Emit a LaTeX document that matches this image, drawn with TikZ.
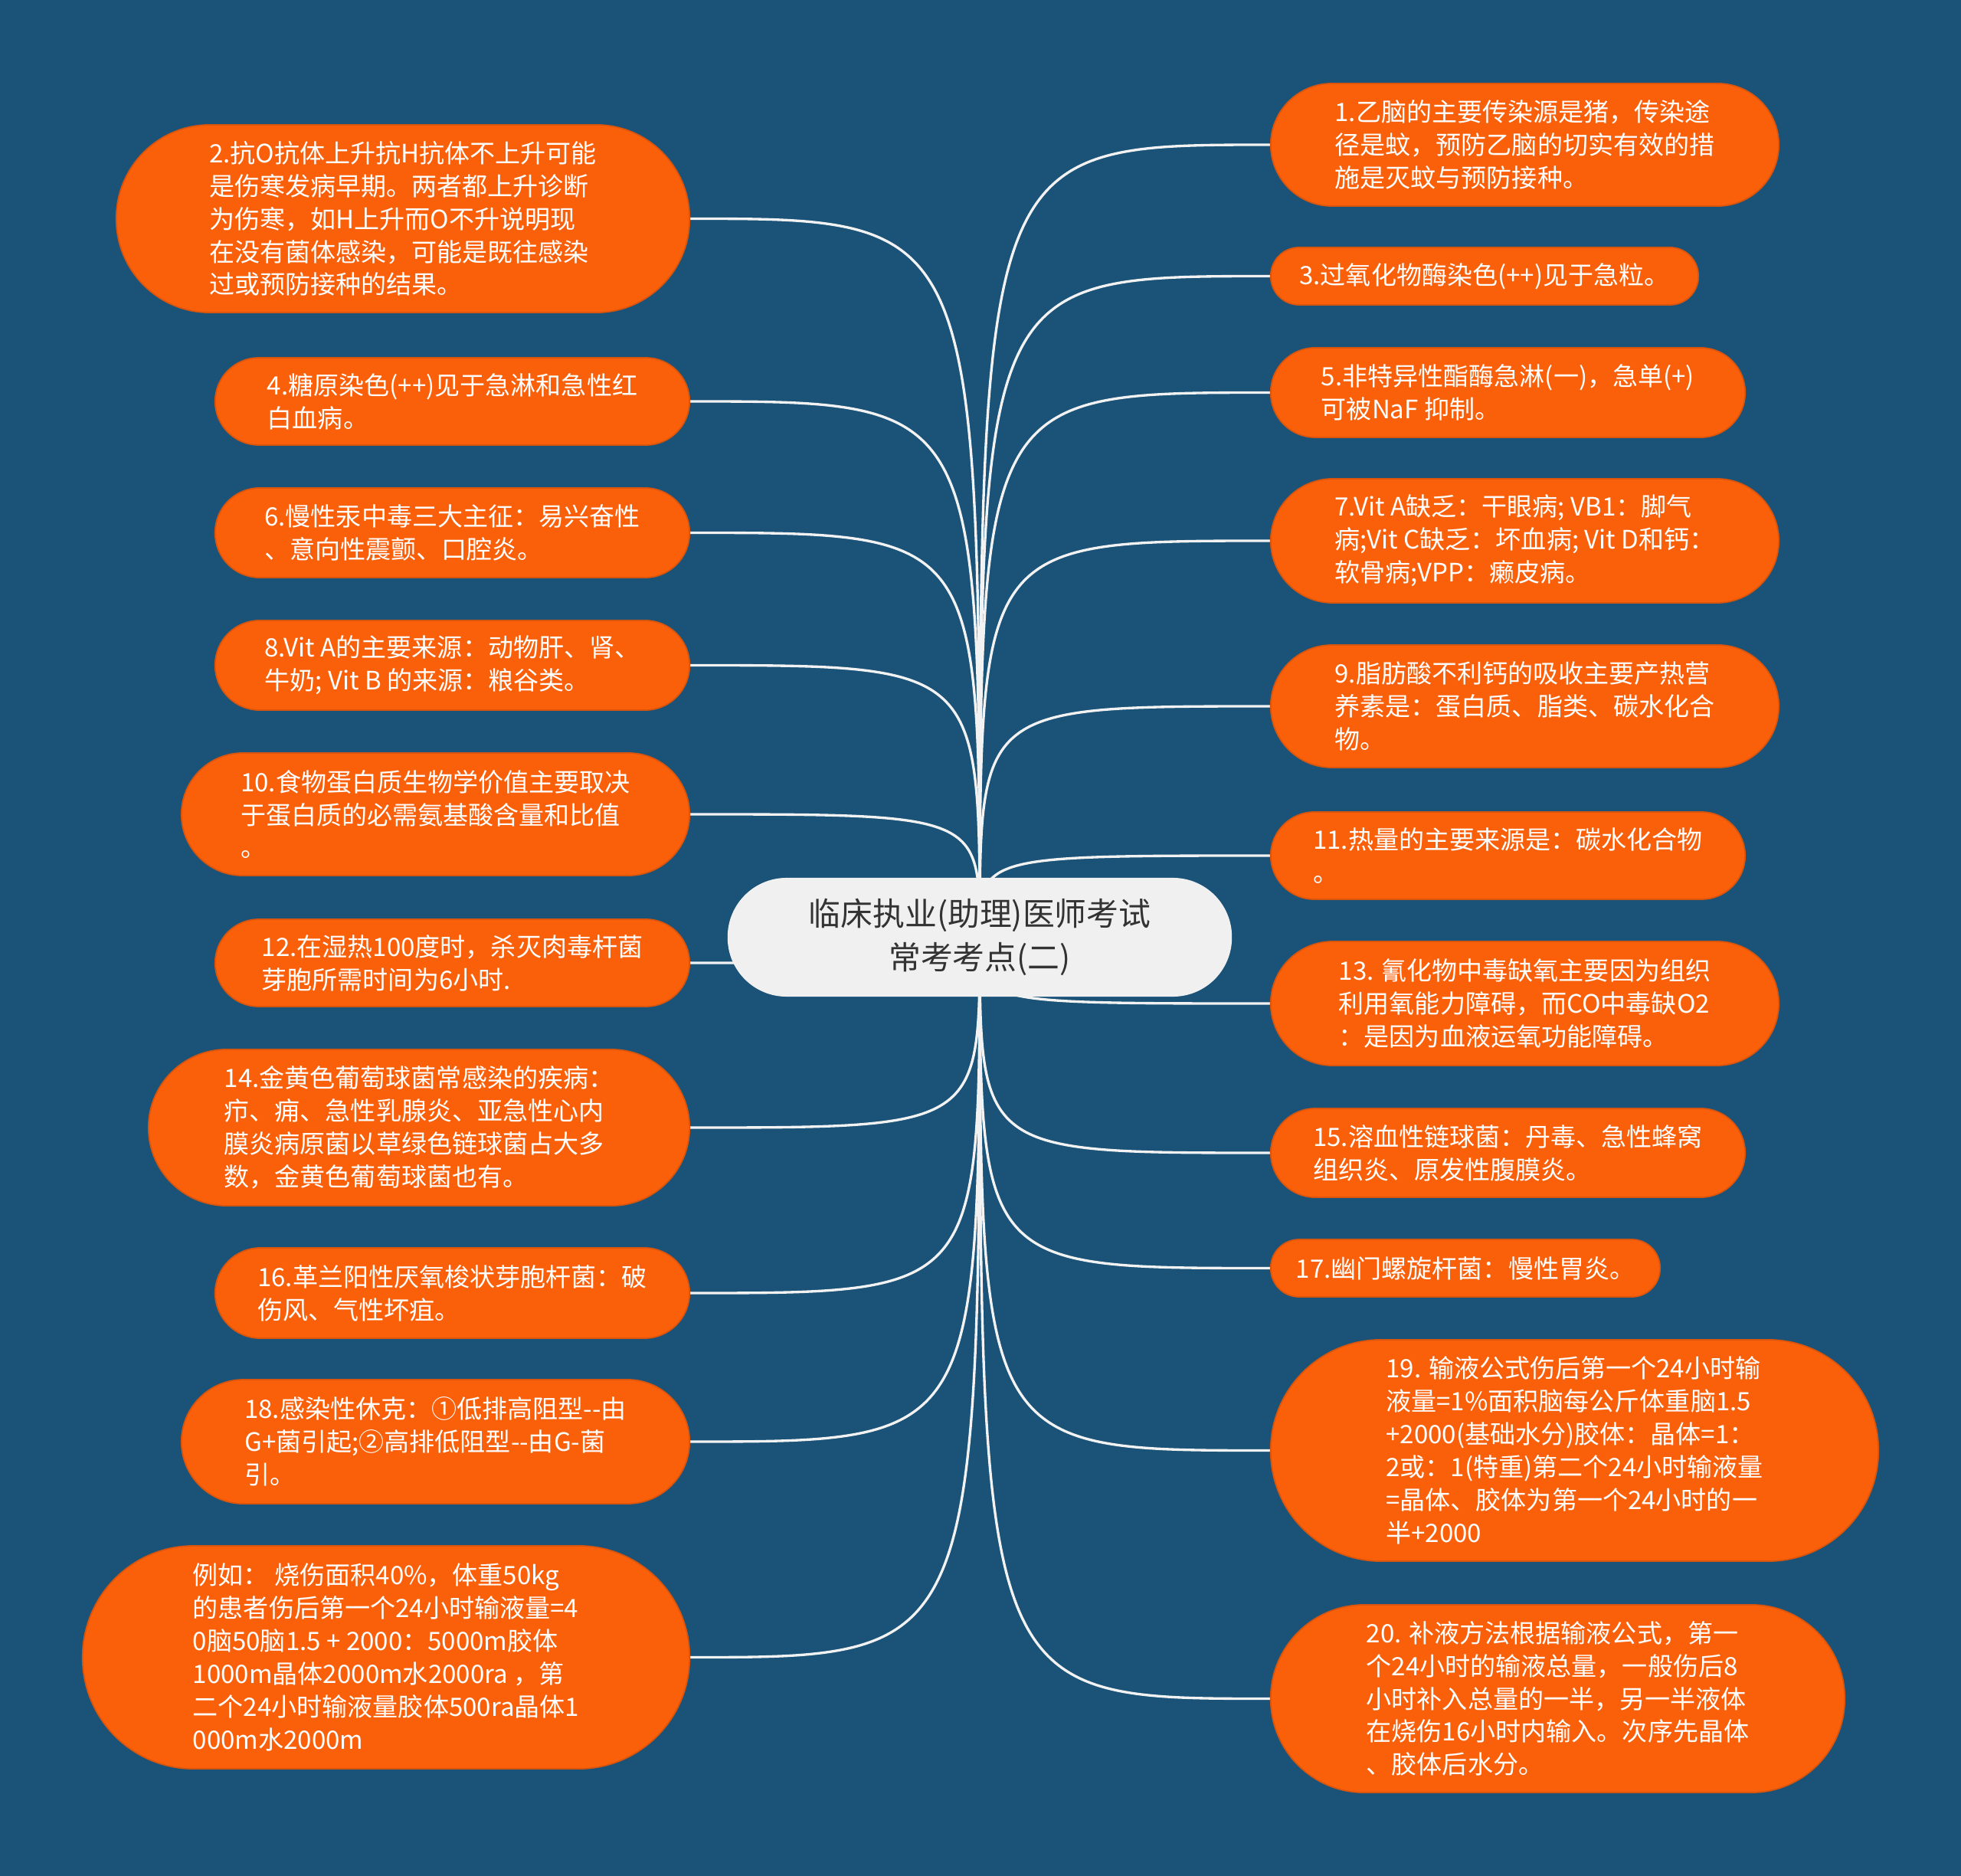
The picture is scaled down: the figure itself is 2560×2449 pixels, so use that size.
\documentclass[tikz,border=0pt]{standalone}
\usepackage{fontspec}
\setmainfont{Noto Sans CJK SC}
\definecolor{bgblue}{HTML}{1B5378}
\definecolor{leaforange}{HTML}{FA600A}
\definecolor{leafedge}{HTML}{D9540C}
\definecolor{rootfill}{HTML}{F0F0F0}
\definecolor{roottext}{HTML}{333333}
\definecolor{linkwhite}{HTML}{F2F2F2}
\pgfdeclarelayer{bg}
\pgfsetlayers{bg,main}
\tikzset{
  leaf/.style={fill=leaforange, draw=leafedge, line width=0.5pt, text=white,
    align=left, inner sep=0pt, font=\fontsize{9.4pt}{12.2pt}\selectfont},
  sz/.style n args={3}{minimum width=#1, minimum height=#2, rounded corners=#3},
  rootbox/.style={fill=rootfill, draw=none, text=roottext, align=center, inner sep=0pt,
    font=\fontsize{11.9pt}{16.2pt}\selectfont},
  conn/.style={draw=linkwhite, line width=0.95pt},
}
\begin{document}
\begin{tikzpicture}[x=0.01cm, y=-0.01cm]
\begin{pgfonlayer}{bg}
\fill[bgblue] (0,0) rectangle (2560,2449);
\end{pgfonlayer}
\useasboundingbox (0,0) rectangle (2560,2449);

% root
\node[rootbox, sz={6.58cm}{1.55cm}{0.77cm}] (root) at (1279,1223.5) {临床执业(助理)医师考试\\常考考点(二)};

% left column
\node[leaf, sz={7.48cm}{2.45cm}{1.22cm}] (n2) at (526,285.5) {2.抗O抗体上升抗H抗体不上升可能\\是伤寒发病早期。两者都上升诊断\\为伤寒，如H上升而O不升说明现\\在没有菌体感染，可能是既往感染\\过或预防接种的结果。};
\node[leaf, sz={6.19cm}{1.14cm}{0.57cm}] (n4) at (590.5,524) {4.糖原染色(++)见于急淋和急性红\\白血病。};
\node[leaf, sz={6.19cm}{1.17cm}{0.58cm}] (n6) at (590.5,695.5) {6.慢性汞中毒三大主征：易兴奋性\\、意向性震颤、口腔炎。};
\node[leaf, sz={6.19cm}{1.17cm}{0.58cm}] (n8) at (590.5,868.5) {8.Vit A的主要来源：动物肝、肾、\\牛奶; Vit B 的来源：粮谷类。};
\node[leaf, sz={6.63cm}{1.60cm}{0.80cm}] (n10) at (568.5,1063) {10.食物蛋白质生物学价值主要取决\\于蛋白质的必需氨基酸含量和比值\\。};
\node[leaf, sz={6.19cm}{1.14cm}{0.57cm}] (n12) at (590.5,1257) {12.在湿热100度时，杀灭肉毒杆菌\\芽胞所需时间为6小时.};
\node[leaf, sz={7.06cm}{2.04cm}{1.02cm}] (n14) at (547,1472) {14.金黄色葡萄球菌常感染的疾病：\\疖、痈、急性乳腺炎、亚急性心内\\膜炎病原菌以草绿色链球菌占大多\\数，金黄色葡萄球菌也有。};
\node[leaf, sz={6.19cm}{1.18cm}{0.59cm}] (n16) at (590.5,1688) {16.革兰阳性厌氧梭状芽胞杆菌：破\\伤风、气性坏疽。};
\node[leaf, sz={6.63cm}{1.62cm}{0.81cm}] (n18) at (568.5,1882) {18.感染性休克：①低排高阻型-{}-由\\G+菌引起;②高排低阻型-{}-由G-菌\\引。};
\node[leaf, sz={7.92cm}{2.91cm}{1.45cm}] (n0) at (504,2163.5) {例如：\ 烧伤面积40\%，体重50kg\\的患者伤后第一个24小时输液量=4\\0脑50脑1.5 + 2000：5000m胶体\\1000m晶体2000m水2000ra ，第\\二个24小时输液量胶体500ra晶体1\\000m水2000m};

% right column
\node[leaf, sz={6.63cm}{1.60cm}{0.80cm}] (n1) at (1990.5,189) {1.乙脑的主要传染源是猪，传染途\\径是蚊，预防乙脑的切实有效的措\\施是灭蚊与预防接种。};
\node[leaf, sz={5.58cm}{0.75cm}{0.37cm}] (n3) at (1938,360.5) {3.过氧化物酶染色(++)见于急粒。};
\node[leaf, sz={6.19cm}{1.17cm}{0.58cm}] (n5) at (1968.5,512.5) {5.非特异性酯酶急淋(一)，急单(+)\\可被NaF 抑制。};
\node[leaf, sz={6.63cm}{1.62cm}{0.81cm}] (n7) at (1990.5,706) {7.Vit A缺乏：干眼病; VB1：脚气\\病;Vit C缺乏：坏血病; Vit D和钙：\\软骨病;VPP：癞皮病。};
\node[leaf, sz={6.63cm}{1.60cm}{0.80cm}] (n9) at (1990.5,922) {9.脂肪酸不利钙的吸收主要产热营\\养素是：蛋白质、脂类、碳水化合\\物。};
\node[leaf, sz={6.19cm}{1.14cm}{0.57cm}] (n11) at (1968.5,1117) {11.热量的主要来源是：碳水化合物\\。};
\node[leaf, sz={6.63cm}{1.62cm}{0.81cm}] (n13) at (1990.5,1310) {13. 氰化物中毒缺氧主要因为组织\\利用氧能力障碍，而CO中毒缺O2\\：是因为血液运氧功能障碍。};
\node[leaf, sz={6.19cm}{1.16cm}{0.58cm}] (n15) at (1968.5,1505) {15.溶血性链球菌：丹毒、急性蜂窝\\组织炎、原发性腹膜炎。};
\node[leaf, sz={5.08cm}{0.75cm}{0.37cm}] (n17) at (1913,1655.5) {17.幽门螺旋杆菌：慢性胃炎。};
\node[leaf, sz={7.93cm}{2.89cm}{1.44cm}] (n19) at (2055.5,1893.5) {19. 输液公式伤后第一个24小时输\\液量=1\%面积脑每公斤体重脑1.5\\+2000(基础水分)胶体：晶体=1：\\2或：1(特重)第二个24小时输液量\\=晶体、胶体为第一个24小时的一\\半+2000};
\node[leaf, sz={7.49cm}{2.45cm}{1.22cm}] (n20) at (2033.5,2217.5) {20. 补液方法根据输液公式，第一\\个24小时的输液总量，一般伤后8\\小时补入总量的一半，另一半液体\\在烧伤16小时内输入。次序先晶体\\、胶体后水分。};

% connectors
\begin{pgfonlayer}{bg}
\foreach \n in {n2,n4,n6,n8,n10,n12,n14,n16,n18,n0}
  \draw[conn] (root.center) .. controls (root.center |- \n.east) .. (\n.east);
\foreach \n in {n1,n3,n5,n7,n9,n11,n13,n15,n17,n19,n20}
  \draw[conn] (root.center) .. controls (root.center |- \n.west) .. (\n.west);
\end{pgfonlayer}
\end{tikzpicture}
\end{document}
